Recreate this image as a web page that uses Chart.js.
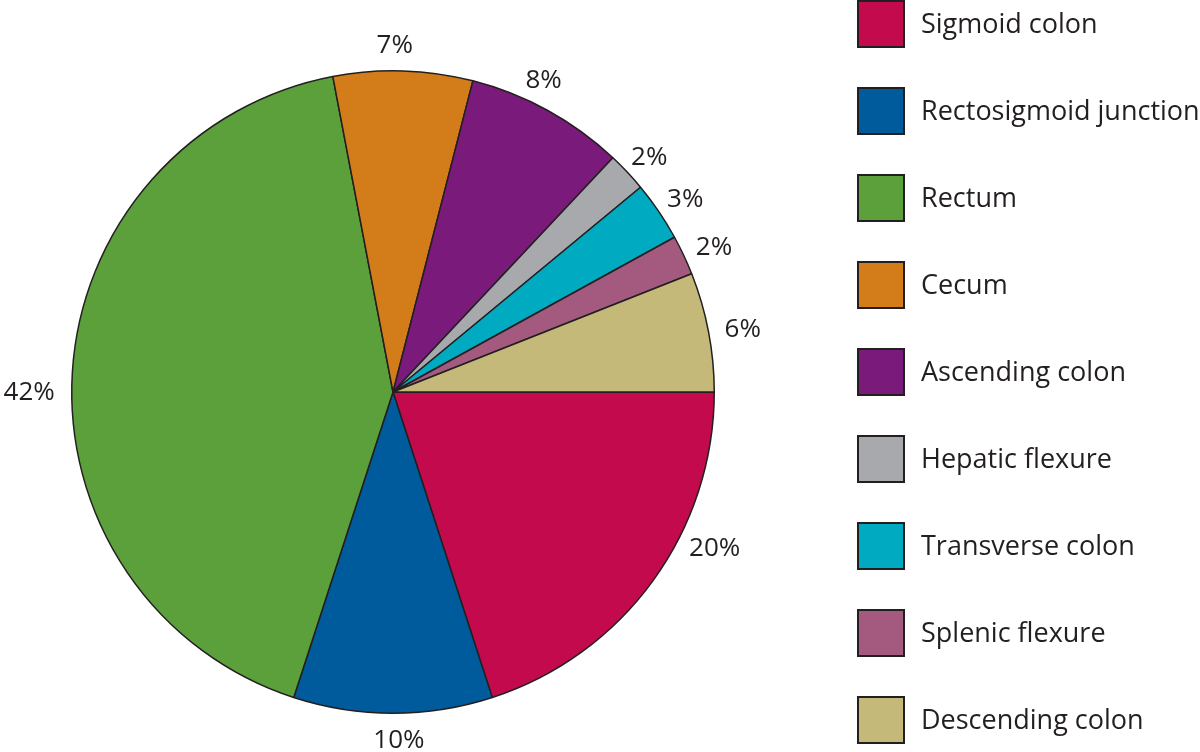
<!DOCTYPE html>
<html>
<head>
<meta charset="utf-8">
<title>Tumour location</title>
<script src="https://cdn.jsdelivr.net/npm/chart.js@4.4.1/dist/chart.umd.min.js"></script>
<style>
  html, body { margin: 0; padding: 0; background: #fff; }
  #wrap { width: 1200px; height: 752px; }
</style>
</head>
<body>
<div id="wrap"><canvas id="pieChart" width="1200" height="752"></canvas></div>
<script>
// data
const categories = ['Sigmoid colon', 'Rectosigmoid junction', 'Rectum', 'Cecum', 'Ascending colon',
    'Hepatic flexure', 'Transverse colon', 'Splenic flexure', 'Descending colon'];
const percentages = [20, 10, 42, 7, 8, 2, 3, 2, 6];
const sliceColors = ['#C20A4C', '#005B9D', '#5BA03A', '#D27C1A', '#7A1A7B',
    '#A8A9AD', '#00AAC0', '#A35A7E', '#C5B97A'];

const inkColor = '#231f20';
const fontFamily = '"Open Sans", "Noto Sans", sans-serif';

// label outside each slice, at mid angle (small angle nudges like the original)
const outsideLabels = {
    id: 'outsideLabels',
    afterDatasetsDraw(chart, args, opts) {
        const ctx = chart.ctx;
        const meta = chart.getDatasetMeta(0);
        ctx.save();
        ctx.font = opts.fontSize + 'px ' + fontFamily;
        ctx.fillStyle = inkColor;
        ctx.textAlign = 'center';
        ctx.textBaseline = 'middle';
        meta.data.forEach((arc, i) => {
            const p = arc.getProps(['x', 'y', 'startAngle', 'endAngle', 'outerRadius'], true);
            let mid = (p.startAngle + p.endAngle) / 2;
            mid += (opts.nudge[i] || 0) * Math.PI / 180;
            const text = chart.data.datasets[0].data[i] + '%';
            const w = ctx.measureText(text).width;
            const h = opts.fontSize * 0.7;
            const r = p.outerRadius + opts.gap;
            const cx = p.x + Math.cos(mid) * (r + w / 2 * Math.abs(Math.cos(mid)));
            const cy = p.y + Math.sin(mid) * (r + h / 2 * Math.abs(Math.sin(mid)));
            ctx.fillText(text, cx, cy + 1);
        });
        ctx.restore();
    }
};

// legend column on the right
const sideLegend = {
    id: 'sideLegend',
    afterDraw(chart, args, opts) {
        const ctx = chart.ctx;
        ctx.save();
        ctx.font = opts.fontSize + 'px ' + fontFamily;
        ctx.textBaseline = 'middle';
        ctx.textAlign = 'left';
        chart.data.labels.forEach((label, i) => {
            const y = opts.top + i * opts.step;
            ctx.fillStyle = sliceColors[i];
            ctx.fillRect(opts.x, y, opts.box, opts.box);
            ctx.lineWidth = 2;
            ctx.strokeStyle = inkColor;
            ctx.strokeRect(opts.x, y, opts.box, opts.box);
            ctx.fillStyle = inkColor;
            ctx.fillText(label, opts.x + opts.box + 17, y + opts.box / 2 + 1);
        });
        ctx.restore();
    }
};

const ctx = document.getElementById('pieChart').getContext('2d');

new Chart(ctx, {
    type: 'pie',
    data: {
        labels: categories,
        datasets: [{
            data: percentages,
            backgroundColor: sliceColors,
            borderColor: inkColor,
            borderWidth: 1.5
        }]
    },
    options: {
        responsive: false,
        animation: false,
        rotation: 90,
        layout: {
            padding: { left: 71, top: 70, right: 485, bottom: 38 }
        },
        plugins: {
            legend: { display: false },
            tooltip: { enabled: false },
            outsideLabels: {
                fontSize: 26,
                gap: 17,
                nudge: [-9, -1, -3.6, -1.5, -3, 0, 0, 0, 0]
            },
            sideLegend: {
                x: 858,
                top: 1,
                step: 87,
                box: 46,
                fontSize: 27
            }
        }
    },
    plugins: [outsideLabels, sideLegend]
});
</script>
</body>
</html>
